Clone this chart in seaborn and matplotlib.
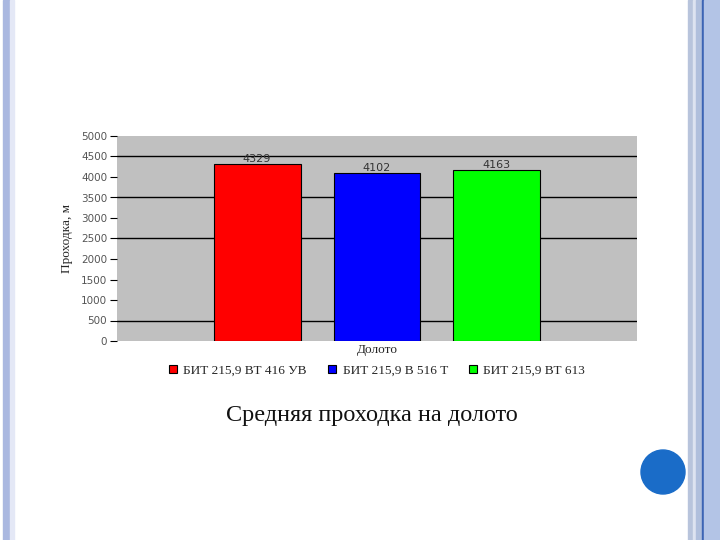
import pandas as pd
import numpy as np
import matplotlib
matplotlib.use("Agg")
import matplotlib.pyplot as plt
import seaborn as sns
from matplotlib.patches import Rectangle, Ellipse

# data
category = ["Долото"]
bits = ["БИТ 215,9 ВТ 416 УВ", "БИТ 215,9 В 516 Т", "БИТ 215,9 ВТ 613"]
depth = [4329, 4102, 4163]
colors = ["#ff0000", "#0000ff", "#00ff00"]

df = pd.DataFrame({"cat": category * 3, "bit": bits, "depth": depth})

sns.set_style("white")
plt.rcParams["font.family"] = ["Liberation Serif", "DejaVu Serif"]

fig = plt.figure(figsize=(7.2, 5.4), dpi=100)

# slide decorations
fig.patches.append(Rectangle((3/720, 0), 7/720, 1, transform=fig.transFigure, color="#aab8e0", zorder=0))
fig.patches.append(Rectangle((10/720, 0), 4/720, 1, transform=fig.transFigure, color="#e4e8f6", zorder=0))
fig.patches.append(Rectangle((688/720, 0), 5/720, 1, transform=fig.transFigure, color="#b8c4dc", zorder=0))
fig.patches.append(Rectangle((693/720, 0), 3/720, 1, transform=fig.transFigure, color="#dde3f0", zorder=0))
fig.patches.append(Rectangle((696/720, 0), 6/720, 1, transform=fig.transFigure, color="#b0bfdc", zorder=0))
fig.patches.append(Rectangle((702/720, 0), 1.5/720, 1, transform=fig.transFigure, color="#3c64b4", zorder=0))
fig.patches.append(Rectangle((703.5/720, 0), 17/720, 1, transform=fig.transFigure, color="#b3c4e6", zorder=0))
fig.patches.append(Ellipse((663/720, 1 - 472/540), 44/720, 44/540, transform=fig.transFigure,
                           color="#1a6cc8", zorder=1))

ax = fig.add_axes([117/720, 1 - 341/540, 520/720, 205/540])
ax.set_facecolor("#c0c0c0")

sns.barplot(data=df, x="cat", y="depth", hue="bit", palette=colors, saturation=1, width=0.8, gap=0.275,
            edgecolor="black", linewidth=0.8, ax=ax, legend=True, zorder=3)

for v in [500, 2500, 3500, 4500]:
    ax.axhline(v, color="black", lw=1, zorder=2)

for c in ax.containers:
    ax.bar_label(c, labels=[str(int(h)) for h in c.datavalues], fontsize=8,
                 family="DejaVu Sans", color="#333333", padding=0)

ax.set_xlim(-0.5778, 0.5778)
ax.set_ylim(0, 5000)
ax.set_yticks(np.arange(0, 5001, 500))
ax.set_yticklabels([str(t) for t in range(0, 5001, 500)], family="DejaVu Sans", fontsize=7.5, color="#555555")
ax.tick_params(axis="y", length=5, width=0.8, color="black", left=True, pad=2)
ax.set_xticks([])
for s in ax.spines.values():
    s.set_visible(False)

ax.set_ylabel("Проходка, м", fontsize=9.5, labelpad=6)
ax.set_xlabel("Долото", fontsize=9.5, labelpad=2)

ax.legend(loc="upper center", bbox_to_anchor=(0.5, -0.09), ncol=3, frameon=False,
          fontsize=9.5, handlelength=0.6, handleheight=0.6, handletextpad=0.5, columnspacing=1.6,
          borderaxespad=0)

fig.text(372/720, 1 - 415/540, "Средняя проходка на долото", ha="center", va="center",
         fontsize=17.5, color="#111111")

fig.savefig("out.png", dpi=100)
